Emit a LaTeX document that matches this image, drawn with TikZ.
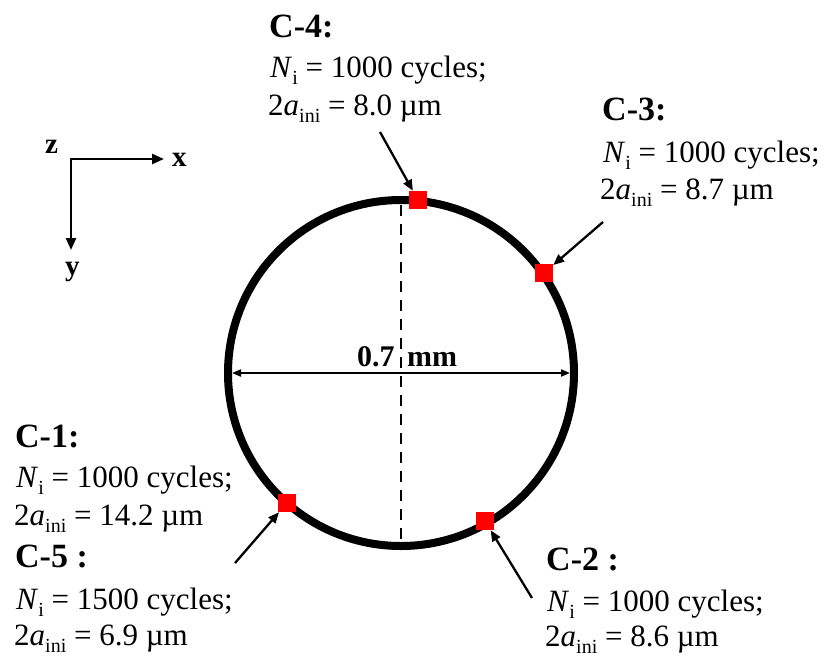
\documentclass[tikz,border=0pt]{standalone}
\usepackage{fontspec}
\setmainfont{Liberation Serif}
\usetikzlibrary{arrows.meta}
\newcommand\lowsub[1]{\raisebox{-0.24em}{\fontsize{20}{20}\selectfont #1}}
\newcommand\Ni{\textit{N}\lowsub{i}}
\newcommand\Aini{2\textit{a}\lowsub{ini}}
\begin{document}
\begin{tikzpicture}[x=1pt,y=-1pt,
  body/.style={anchor=base west, inner sep=0pt, font=\fontsize{31}{37}\selectfont},
  head/.style={anchor=base west, inner sep=0pt, font=\fontsize{34}{40}\selectfont\bfseries},
  axlabel/.style={anchor=base west, inner sep=0pt, font=\fontsize{29}{34}\selectfont\bfseries},
  crack/.style={rectangle, fill=red, minimum size=18pt, inner sep=0pt},
  ptr/.style={line width=2.3pt, -{Triangle[length=11pt,width=9pt]}},
  dimline/.style={line width=2pt, {Triangle[length=9pt,width=7pt]}-{Triangle[length=9pt,width=7pt]}},
  axisline/.style={line width=2.5pt, {Triangle[length=12pt,width=10pt]}-{Triangle[length=12pt,width=10pt]}}]
\useasboundingbox (0,0) rectangle (827,657);

% axes
\coordinate (o) at (71,159);
\coordinate (xe) at (164,159);
\coordinate (ye) at (71,250);
\draw[axisline] (xe) -- (o) -- (ye);
\node[axlabel] (lz) at (45,153) {z};
\node[axlabel] (lx) at (172,166) {x};
\node[axlabel] (ly) at (65,275) {y};

% ring
\node[circle, draw, line width=8pt, minimum size=346pt, inner sep=0pt, outer sep=0pt] (ring) at (401,373) {};
\coordinate (dt) at (401,205);
\coordinate (db) at (401,542);
\draw[line width=2.3pt, dash pattern=on 11pt off 8pt] (dt) -- (db);
\coordinate (dl) at (232,373);
\coordinate (dr) at (570,373);
\draw[dimline] (dl) -- (dr);
\node[anchor=base west, inner sep=0pt, font=\fontsize{30}{36}\selectfont\bfseries] (dim) at (357,366) {0.7\hspace{12.5pt}mm};

% cracks
\node[crack] (s4) at (418,200) {};
\node[crack] (s3) at (544,273) {};
\node[crack] (s2) at (485,521) {};
\node[crack] (s1) at (287,503) {};

\coordinate (a4) at (380,132);
\coordinate (a3) at (603,222);
\coordinate (a2) at (532,598);
\coordinate (a1) at (235,563);
\draw[ptr] (a4) -- (s4);
\draw[ptr] (a3) -- (s3);
\draw[ptr] (a2) -- (s2);
\draw[ptr] (a1) -- (s1);

% labels
\node[head] (c4h) at (269,37) {C-4:};
\node[body] (c4n) at (270,77) {\Ni{} = 1000 cycles;};
\node[body] (c4a) at (268,115) {\Aini{} = 8.0 µm};

\node[head] (c3h) at (602,120) {C-3:};
\node[body] (c3n) at (603,162) {\Ni{} = 1000 cycles;};
\node[body] (c3a) at (600,199) {\Aini{} = 8.7 µm};

\node[head] (c1h) at (15,447) {C-1:};
\node[body] (c1n) at (16,487) {\Ni{} = 1000 cycles;};
\node[body] (c1a) at (14,525) {\Aini{} = 14.2 µm};

\node[head] (c5h) at (15,567) {C-5 :};
\node[body] (c5n) at (16,609) {\Ni{} = 1500 cycles;};
\node[body] (c5a) at (14,645) {\Aini{} = 6.9 µm};

\node[head] (c2h) at (546,570) {C-2 :};
\node[body] (c2n) at (547,611) {\Ni{} = 1000 cycles;};
\node[body] (c2a) at (545,646) {\Aini{} = 8.6 µm};
\end{tikzpicture}
\end{document}
